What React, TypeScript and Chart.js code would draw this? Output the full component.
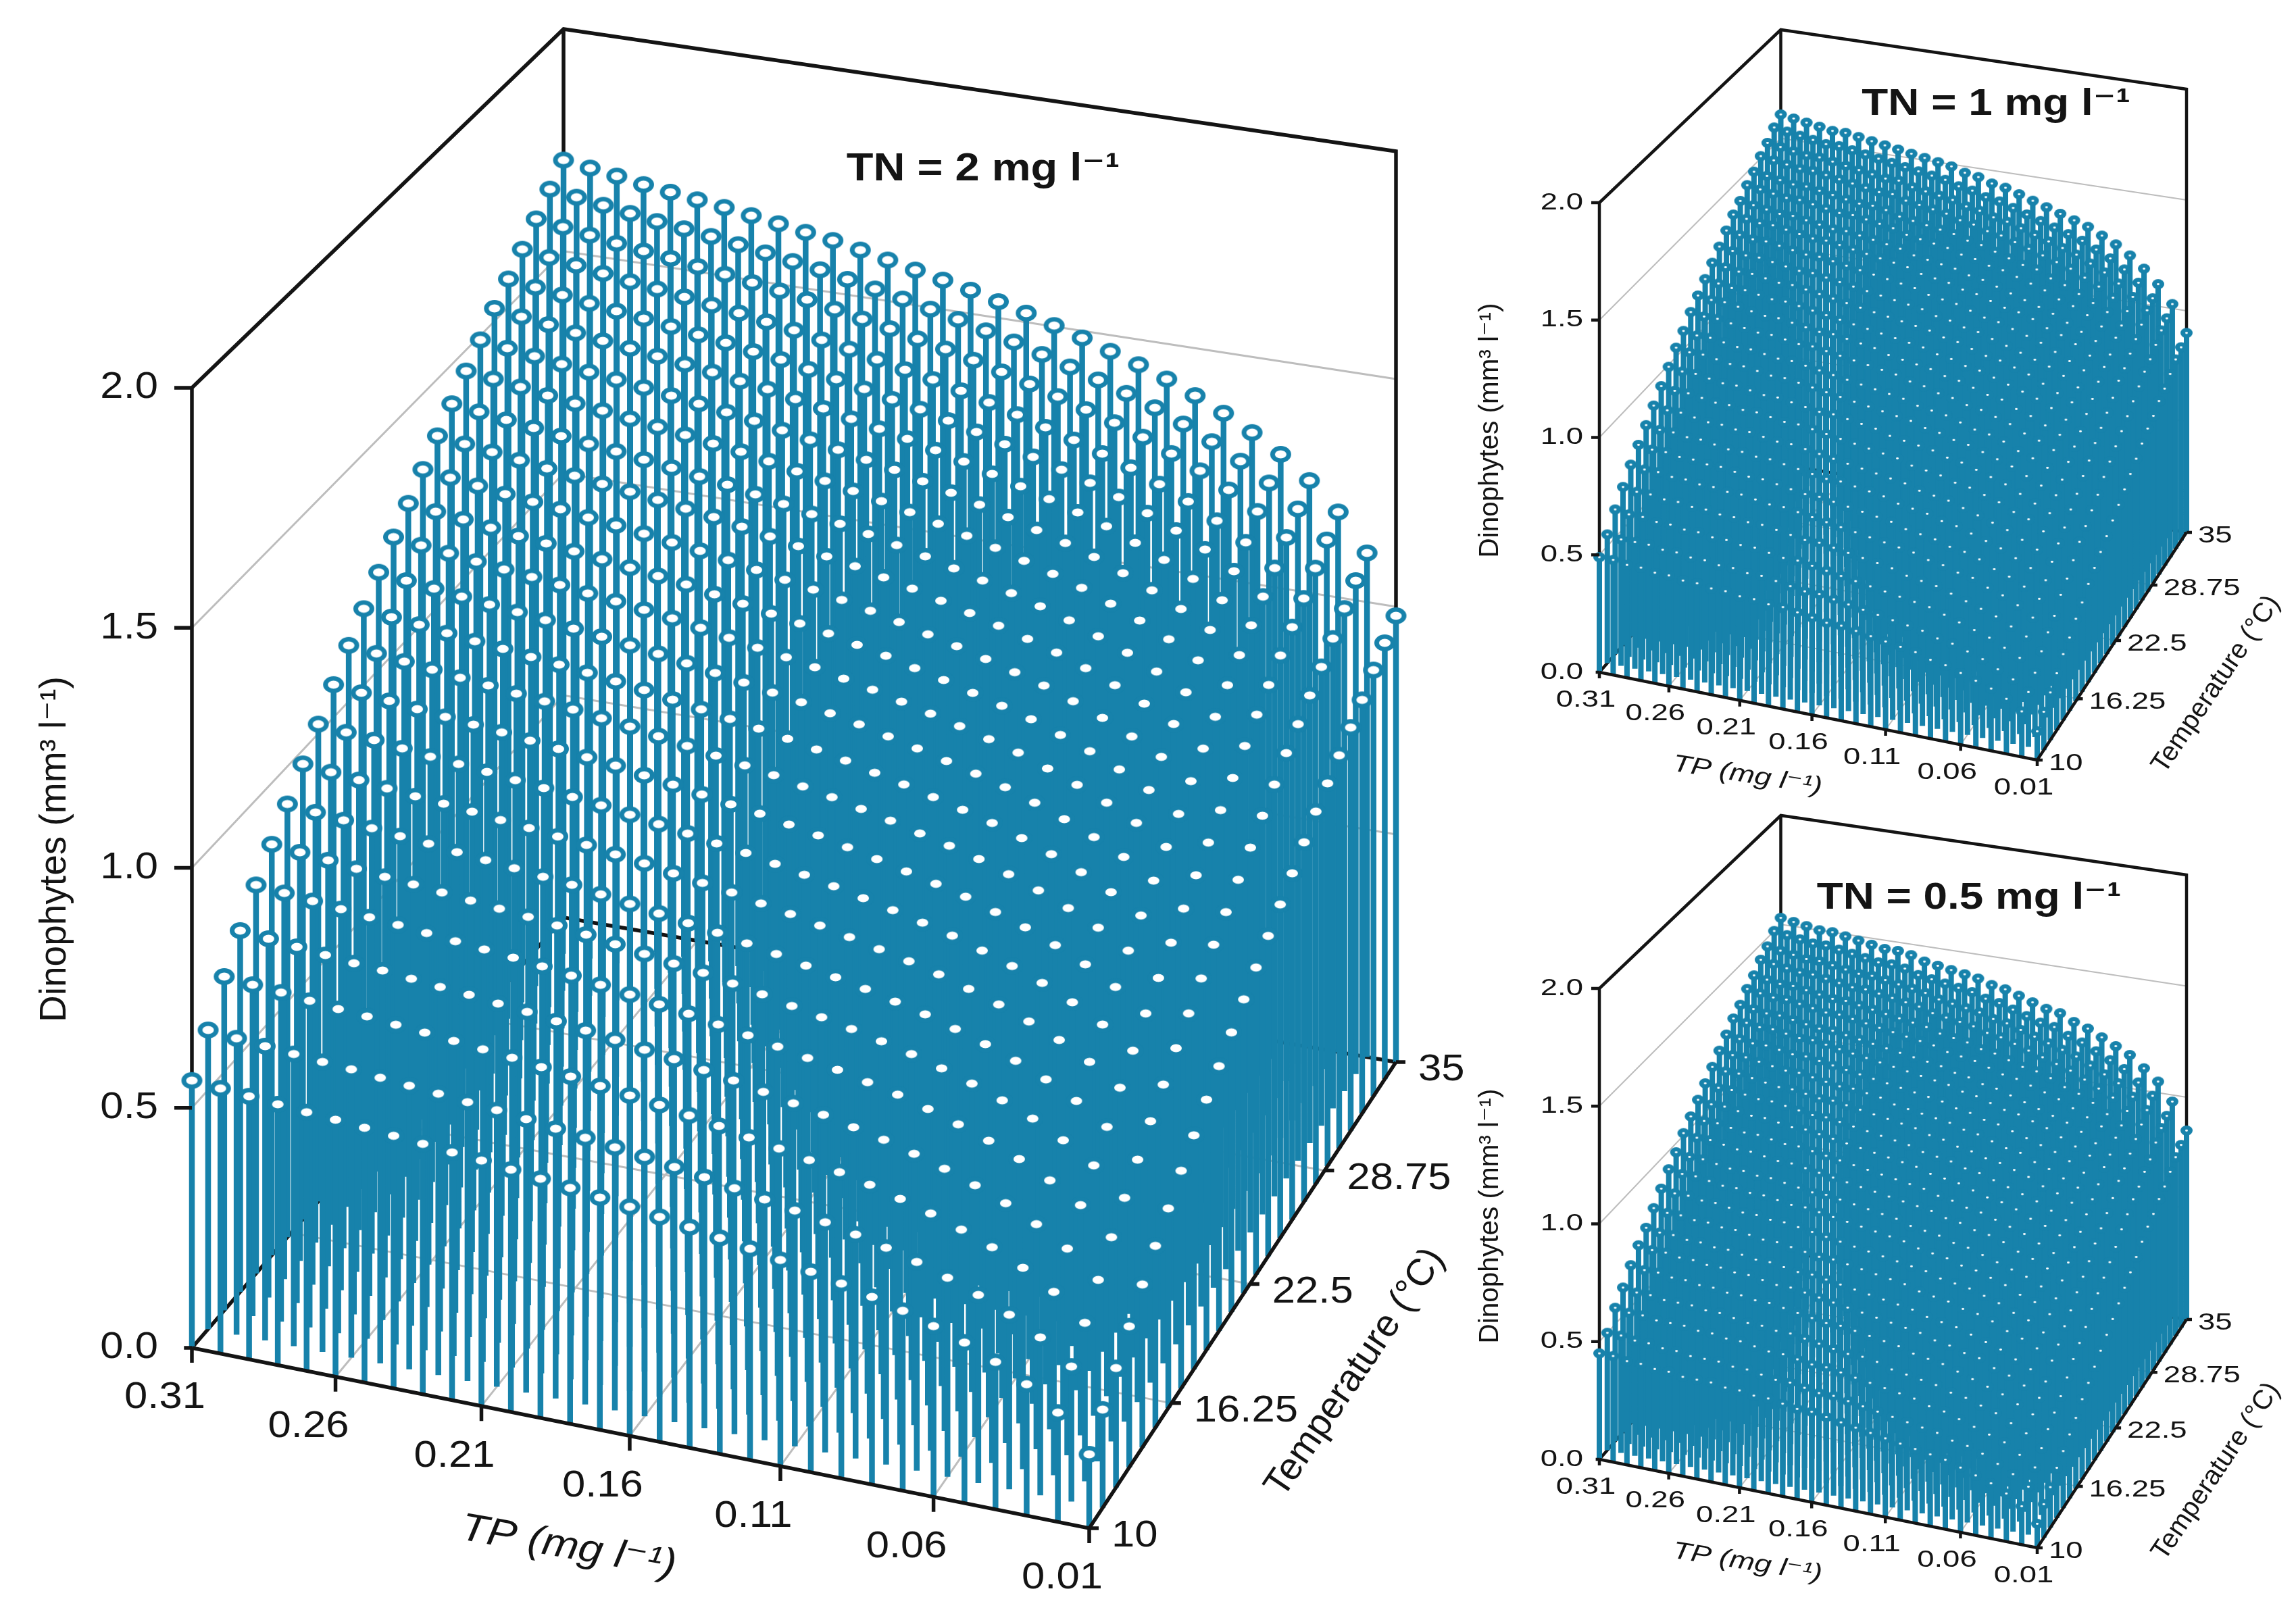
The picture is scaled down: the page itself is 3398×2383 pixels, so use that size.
import React, { useEffect, useRef } from "react";
import { Chart, registerables } from "chart.js";

Chart.register(...registerables);

// Grid of the stems
const tpValues = [0.31,0.30,0.29,0.28,0.27,0.26,0.25,0.24,0.23,0.22,0.21,0.20,0.19,0.18,0.17,0.16,0.15,0.14,0.13,0.12,0.11,0.10,0.09,0.08,0.07,0.06,0.05,0.04,0.03,0.02,0.01];
const temperatureValues = [10,11,12,13,14,15,16,17,18,19,20,21,22,23,24,25,26,27,28,29,30,31,32,33,34,35];

// Tick labels
const tpTicks = ["0.31","0.26","0.21","0.16","0.11","0.06","0.01"];
const temperatureTicks = ["10","16.25","22.5","28.75","35"];
const dinoTicks = ["0.0","0.5","1.0","1.5","2.0"];

// Dinophytes, TN = 2 mg/l, in 0.001 mm3/l. One row per temperature (10 to 35), TP from 0.31 to 0.01.
const dinoTN2 = [
[557,552,547,542,537,533,528,523,518,512,507,500,493,486,478,471,462,453,443,433,422,410,398,383,367,348,327,300,267,222,150],
[625,619,614,609,604,600,594,589,584,578,573,566,558,551,543,535,526,517,506,495,484,472,459,444,427,407,384,356,322,275,200],
[700,694,689,683,677,673,667,662,656,650,644,636,628,620,612,604,594,584,572,561,549,536,522,505,487,466,442,412,375,324,244],
[760,754,748,742,736,732,726,720,715,708,702,694,686,678,669,661,650,640,628,616,604,590,576,559,540,518,493,462,424,372,289],
[820,814,808,802,796,791,785,779,773,767,760,752,744,735,726,718,707,696,684,672,659,645,631,613,593,571,545,513,474,420,335],
[870,864,858,851,845,840,834,828,822,816,809,801,792,783,774,766,755,744,731,719,706,692,677,659,639,616,590,557,517,462,375],
[920,913,907,901,895,890,883,877,871,864,858,849,840,831,822,813,802,791,778,765,752,737,722,703,683,660,633,600,558,502,413],
[970,963,957,950,944,939,933,926,920,913,906,897,889,879,870,861,849,838,825,812,798,784,768,749,728,704,677,643,601,543,452],
[1020,1013,1007,1000,993,988,982,975,969,961,954,945,936,927,917,908,896,884,871,857,843,828,812,792,771,747,718,683,640,581,487],
[1070,1063,1056,1049,1043,1037,1031,1024,1017,1010,1003,993,984,974,964,955,943,931,917,903,888,873,857,836,815,789,760,724,680,619,523],
[1120,1113,1106,1099,1092,1086,1079,1073,1066,1058,1051,1041,1031,1021,1011,1001,988,976,962,948,932,917,900,879,856,830,800,763,717,654,555],
[1165,1157,1151,1143,1136,1130,1123,1117,1110,1102,1094,1084,1074,1064,1054,1043,1031,1018,1003,989,973,957,940,919,896,869,838,800,754,690,588],
[1210,1202,1195,1188,1181,1175,1168,1160,1153,1145,1137,1127,1117,1107,1096,1086,1073,1060,1045,1030,1014,998,980,958,934,907,876,837,789,724,620],
[1253,1245,1238,1230,1223,1217,1210,1202,1195,1187,1179,1169,1158,1147,1137,1126,1112,1099,1084,1069,1053,1036,1018,995,971,944,912,872,823,756,650],
[1293,1285,1278,1270,1262,1256,1249,1242,1234,1226,1218,1207,1197,1186,1175,1164,1150,1137,1121,1106,1089,1072,1054,1031,1007,979,946,906,856,788,680],
[1334,1326,1318,1310,1303,1297,1289,1282,1274,1265,1257,1247,1236,1225,1214,1202,1189,1175,1159,1144,1127,1109,1091,1068,1043,1014,981,940,889,820,710],
[1375,1367,1359,1351,1343,1337,1329,1322,1314,1305,1297,1286,1275,1264,1252,1241,1227,1213,1197,1181,1164,1146,1127,1104,1078,1049,1016,974,922,852,740],
[1413,1405,1397,1389,1381,1374,1367,1359,1351,1342,1334,1323,1312,1300,1289,1277,1263,1249,1233,1217,1200,1182,1162,1138,1113,1083,1049,1007,955,883,770],
[1453,1445,1437,1428,1420,1414,1406,1398,1390,1381,1373,1362,1350,1339,1327,1315,1301,1286,1270,1254,1236,1218,1198,1174,1148,1118,1083,1040,987,915,800],
[1490,1481,1473,1465,1457,1450,1442,1434,1426,1417,1408,1397,1386,1374,1362,1350,1335,1320,1304,1287,1269,1251,1231,1206,1179,1149,1114,1070,1016,942,825],
[1528,1519,1511,1502,1494,1487,1479,1471,1463,1453,1445,1433,1422,1409,1397,1385,1370,1355,1338,1321,1303,1284,1264,1238,1211,1180,1144,1100,1045,969,850],
[1562,1553,1545,1536,1528,1521,1513,1504,1496,1486,1478,1466,1454,1442,1429,1417,1402,1387,1370,1352,1334,1315,1294,1269,1241,1210,1173,1128,1072,996,875],
[1597,1588,1580,1571,1562,1555,1547,1538,1530,1520,1511,1499,1488,1475,1462,1450,1435,1419,1402,1384,1366,1346,1325,1299,1271,1239,1202,1156,1100,1023,900],
[1634,1625,1616,1607,1599,1592,1583,1575,1566,1557,1547,1535,1523,1511,1498,1485,1470,1454,1437,1419,1400,1381,1359,1333,1305,1273,1236,1189,1132,1054,930],
[1670,1661,1652,1643,1634,1627,1619,1610,1601,1591,1582,1570,1558,1545,1532,1519,1503,1488,1470,1452,1433,1413,1391,1365,1336,1303,1265,1218,1160,1081,955],
[1705,1696,1687,1677,1669,1661,1653,1644,1635,1625,1616,1604,1591,1578,1565,1552,1536,1520,1502,1484,1464,1444,1422,1395,1366,1333,1295,1247,1188,1108,980],
];

// Dinophytes, TN = 1 mg/l, in 0.01 mm3/l.
const dinoTN1 = [
[49,49,48,48,47,47,46,46,45,45,44,44,43,43,42,41,40,40,39,38,37,36,35,33,32,30,28,26,23,19,12],
[55,54,54,54,53,53,52,52,51,51,50,50,49,48,47,47,46,45,44,43,42,41,40,38,37,35,33,30,27,23,16],
[62,61,61,60,60,59,59,58,58,57,57,56,55,55,54,53,52,51,50,49,48,47,46,44,42,40,38,35,32,27,20],
[68,67,67,66,66,65,65,64,64,63,63,62,61,60,60,59,58,57,56,55,53,52,51,49,47,45,43,40,37,32,24],
[74,73,73,72,72,71,71,70,70,69,68,68,67,66,65,64,63,62,61,60,59,57,56,54,53,50,48,45,41,36,28],
[79,78,78,77,77,76,76,75,74,74,73,72,71,71,70,69,68,67,66,64,63,62,60,59,57,54,52,49,45,39,31],
[84,83,83,82,82,81,80,80,79,79,78,77,76,75,75,74,73,72,70,69,68,66,65,63,61,59,56,53,49,44,35],
[89,88,88,87,86,86,85,85,84,83,83,82,81,80,79,78,77,76,75,73,72,71,69,67,65,63,60,57,53,47,38],
[94,93,93,92,91,91,90,90,89,88,88,87,86,85,84,83,82,81,79,78,77,75,74,72,70,67,65,61,57,51,42],
[99,98,98,97,96,96,95,94,94,93,92,91,91,90,89,88,86,85,84,83,81,80,78,76,74,71,68,65,60,55,45],
[104,103,103,102,101,101,100,99,99,98,97,96,95,94,93,92,91,90,88,87,85,84,82,80,78,75,72,69,64,58,48],
[108,107,107,106,105,105,104,103,103,102,101,100,99,98,97,96,95,93,92,91,89,87,86,84,81,79,76,72,67,61,51],
[113,112,112,111,110,109,109,108,107,107,106,105,104,103,102,101,99,98,96,95,93,92,90,88,85,83,80,76,71,64,54],
[117,116,116,115,114,113,113,112,111,110,110,109,108,107,105,104,103,102,100,99,97,95,94,91,89,86,83,79,74,68,57],
[121,120,119,119,118,117,117,116,115,114,113,112,111,110,109,108,107,105,104,102,101,99,97,95,93,90,86,82,78,71,60],
[125,124,123,123,122,121,121,120,119,118,117,116,115,114,113,112,111,109,108,106,104,103,101,99,96,93,90,86,81,74,63],
[129,128,127,127,126,125,124,124,123,122,121,120,119,118,117,116,114,113,111,110,108,106,104,102,100,97,93,89,84,77,66],
[133,132,131,131,130,129,128,128,127,126,125,124,123,122,121,119,118,117,115,113,112,110,108,106,103,100,97,93,87,80,69],
[137,136,135,135,134,133,132,132,131,130,129,128,127,126,124,123,122,120,119,117,115,114,112,109,107,104,100,96,91,83,72],
[140,139,138,137,137,136,135,134,134,133,132,131,130,128,127,126,125,123,122,120,118,116,114,112,109,106,103,98,93,86,74],
[144,143,142,141,141,140,139,138,138,137,136,135,133,132,131,130,128,127,125,124,122,120,118,115,113,110,106,102,96,89,77],
[147,146,145,144,144,143,142,141,140,140,139,137,136,135,134,133,131,130,128,126,124,123,120,118,115,112,109,104,99,91,79],
[151,150,149,148,148,147,146,145,144,143,143,141,140,139,138,136,135,133,132,130,128,126,124,122,119,116,112,107,102,94,82],
[154,153,152,151,151,150,149,148,147,146,146,144,143,142,141,139,138,136,135,133,131,129,127,125,122,119,115,110,105,97,85],
[158,157,156,155,154,154,153,152,151,150,149,148,147,146,144,143,141,140,138,136,134,132,130,128,125,122,118,113,107,99,87],
[161,160,159,158,157,157,156,155,154,153,152,151,150,149,147,146,144,143,141,139,137,135,133,131,128,125,121,116,110,102,90],
];

// Dinophytes, TN = 0.5 mg/l, in 0.01 mm3/l.
const dinoTN05 = [
[45,45,44,44,43,43,42,42,42,41,41,40,40,39,38,38,37,36,35,34,33,32,31,30,29,27,25,23,20,16,10],
[50,50,49,49,48,48,47,47,47,46,46,45,44,44,43,42,42,41,40,39,38,37,36,35,33,32,30,27,24,20,14],
[57,56,56,55,55,55,54,54,53,53,52,51,51,50,49,49,48,47,46,45,44,43,41,40,38,36,34,32,28,24,17],
[62,61,61,60,60,60,59,59,58,57,57,56,56,55,54,53,52,52,51,49,48,47,46,44,43,41,39,36,33,28,21],
[68,67,67,66,66,65,65,64,64,63,63,62,61,60,59,59,58,57,56,55,53,52,51,49,47,45,43,40,37,32,24],
[73,72,72,71,71,70,70,69,69,68,67,67,66,65,64,63,62,61,60,59,58,56,55,53,52,49,47,44,40,35,27],
[77,76,76,75,75,74,74,73,72,72,71,70,70,69,68,67,66,65,64,63,61,60,59,57,55,53,50,47,43,38,30],
[82,81,81,80,80,79,79,78,77,77,76,75,74,74,73,72,71,70,69,67,66,65,63,62,60,57,55,52,48,42,34],
[87,86,86,85,85,84,83,83,82,82,81,80,79,78,77,76,75,74,73,72,70,69,68,66,64,61,59,55,51,46,37],
[92,91,91,90,89,89,88,88,87,86,86,85,84,83,82,81,80,79,77,76,75,73,72,70,68,65,63,59,55,49,40],
[96,95,95,94,93,93,92,92,91,90,89,89,88,87,86,85,84,82,81,80,78,77,75,73,71,69,66,62,58,52,43],
[101,100,100,99,98,98,97,96,96,95,94,93,92,91,90,89,88,87,86,84,83,81,80,78,75,73,70,66,62,56,46],
[105,104,104,103,102,102,101,100,100,99,98,97,96,95,94,93,92,91,89,88,86,85,83,81,79,76,73,70,65,59,49],
[109,108,108,107,106,106,105,104,104,103,102,101,100,99,98,97,96,94,93,92,90,88,87,85,82,80,77,73,68,62,52],
[113,112,112,111,110,110,109,108,107,107,106,105,104,103,102,101,99,98,97,95,94,92,90,88,86,83,80,76,72,65,55],
[117,116,116,115,114,113,113,112,111,111,110,109,108,107,106,105,103,102,100,99,97,96,94,92,89,87,84,80,75,68,58],
[121,120,120,119,118,117,117,116,115,114,114,113,112,110,109,108,107,106,104,103,101,99,98,95,93,90,87,83,78,72,61],
[125,124,123,123,122,121,121,120,119,118,117,116,115,114,113,112,111,109,108,106,105,103,101,99,97,94,90,86,81,75,64],
[129,128,127,127,126,125,125,124,123,122,121,120,119,118,117,116,115,113,112,110,108,107,105,103,100,97,94,90,85,78,67],
[132,131,130,130,129,128,127,127,126,125,124,123,122,121,120,119,117,116,114,113,111,109,107,105,103,100,96,92,87,80,69],
[136,135,134,134,133,132,131,131,130,129,128,127,126,125,124,122,121,120,118,116,115,113,111,109,106,103,100,96,90,83,72],
[139,138,137,137,136,135,134,134,133,132,131,130,129,128,126,125,124,122,121,119,117,116,114,111,109,106,102,98,93,85,74],
[143,142,141,140,140,139,138,137,137,136,135,134,133,131,130,129,128,126,125,123,121,119,117,115,112,109,106,101,96,89,77],
[146,145,144,143,143,142,141,140,140,139,138,137,136,134,133,132,131,129,128,126,124,122,120,118,115,112,109,104,99,92,80],
[150,149,148,147,147,146,145,144,143,143,142,140,139,138,137,136,134,133,131,129,127,126,123,121,118,115,112,107,102,94,82],
[153,152,151,150,150,149,148,147,146,146,145,143,142,141,140,139,137,136,134,132,130,129,126,124,121,118,115,110,105,97,85],
];

const TEAL = "#1782ab";
const GREY = "#bdbdbd";
const INK = "#141414";
const FONT = '"Liberation Sans", "DejaVu Sans", Arial, sans-serif';

type Pt = { x: number; y: number | null; top?: boolean };
type Title = { text: string; x: number; y: number; rot: number; font: string; sx: number };

type PanelCfg = {
  rect: { left: number; top: number; width: number; height: number };
  rows: number[][];
  unit: number;
  O: number[]; A: number[]; B: number[]; C: number[];
  hO: number; hB: number; hC: number;
  stem: number; frame: number; grid: number;
  ring: number[];
  tickZ: number; tickTP: number; tickT: number;
  tickFont: string; tickSx: number;
  zLabelGap: number; tpLabel: number[]; tLabel: number[];
  titles: Title[];
};

const panels: PanelCfg[] = [
  {
    rect: { left: 0, top: 0, width: 2185, height: 2383 },
    rows: dinoTN2, unit: 0.001,
    O: [284, 1995], A: [1612, 2262], B: [2066, 1572], C: [834, 1358],
    hO: 710.5, hB: 674, hC: 657.5,
    stem: 8.5, frame: 5.5, grid: 3,
    ring: [15.5, 12.5, 8.5, 6],
    tickZ: 26, tickTP: 22, tickT: 14,
    tickFont: `56px ${FONT}`, tickSx: 1.1,
    zLabelGap: 50, tpLabel: [-40, 74], tLabel: [33, 12],
    titles: [
      { text: "Dinophytes (mm³ l⁻¹)", x: 82, y: 1257, rot: -90, font: `55px ${FONT}`, sx: 1 },
      { text: "TP (mg l⁻¹)", x: 841, y: 2290, rot: 10, font: `italic 58px ${FONT}`, sx: 1.12 },
      { text: "Temperature (°C)", x: 2006, y: 2032, rot: -56, font: `56px ${FONT}`, sx: 1 },
      { text: "TN = 2 mg l⁻¹", x: 1455, y: 251, rot: 0, font: `bold 58px ${FONT}`, sx: 1.12 },
    ],
  },
  {
    rect: { left: 2185, top: 0, width: 1213, height: 1190 },
    rows: dinoTN1, unit: 0.01,
    O: [2367, 995], A: [3015, 1125], B: [3236, 788], C: [2635.5, 687],
    hO: 347.5, hB: 328, hC: 321.5,
    stem: 8, frame: 4.5, grid: 2,
    ring: [9, 7.5, 2, 1.4],
    tickZ: 12, tickTP: 9, tickT: 8,
    tickFont: `35px ${FONT}`, tickSx: 1.3,
    zLabelGap: 24, tpLabel: [-20, 41], tLabel: [17, 5],
    titles: [
      { text: "Dinophytes (mm³ l⁻¹)", x: 2206, y: 637, rot: -90, font: `40.5px ${FONT}`, sx: 1 },
      { text: "TP (mg l⁻¹)", x: 2586, y: 1148, rot: 9, font: `italic 36px ${FONT}`, sx: 1.25 },
      { text: "Temperature (°C)", x: 3280, y: 1013, rot: -56, font: `40px ${FONT}`, sx: 1 },
      { text: "TN = 1 mg l⁻¹", x: 2954, y: 155, rot: 0, font: `bold 56px ${FONT}`, sx: 1.14 },
    ],
  },
  {
    rect: { left: 2185, top: 1190, width: 1213, height: 1193 },
    rows: dinoTN05, unit: 0.01,
    O: [2367, 2160], A: [3015, 2291], B: [3236, 1953], C: [2635.5, 1852],
    hO: 348.5, hB: 329, hC: 322.5,
    stem: 8, frame: 4.5, grid: 2,
    ring: [9, 7.5, 2, 1.4],
    tickZ: 12, tickTP: 9, tickT: 8,
    tickFont: `35px ${FONT}`, tickSx: 1.3,
    zLabelGap: 24, tpLabel: [-20, 41], tLabel: [17, 5],
    titles: [
      { text: "Dinophytes (mm³ l⁻¹)", x: 2206, y: 1800, rot: -90, font: `40.5px ${FONT}`, sx: 1 },
      { text: "TP (mg l⁻¹)", x: 2586, y: 2313, rot: 9, font: `italic 36px ${FONT}`, sx: 1.25 },
      { text: "Temperature (°C)", x: 3280, y: 2178, rot: -56, font: `40px ${FONT}`, sx: 1 },
      { text: "TN = 0.5 mg l⁻¹", x: 2914, y: 1330, rot: 0, font: `bold 56px ${FONT}`, sx: 1.14 },
    ],
  },
];

function makeProjection(p: PanelCfg) {
  const [x0, y0] = p.O, [x1, y1] = p.A, [x2, y2] = p.B, [x3, y3] = p.C;
  const sx = x0 - x1 + x2 - x3, sy = y0 - y1 + y2 - y3;
  const dx1 = x1 - x2, dx2 = x3 - x2, dy1 = y1 - y2, dy2 = y3 - y2;
  const den = dx1 * dy2 - dx2 * dy1;
  const g = (sx * dy2 - dx2 * sy) / den, h = (dx1 * sy - sx * dy1) / den;
  const a = x1 - x0 + g * x1, b = x3 - x0 + h * x3;
  const d = y1 - y0 + g * y1, e = y3 - y0 + h * y3;
  const ip = 1 / p.hO, ir = 1 / p.hC - ip, iq = 1 / p.hB - ip - ir;
  return (tp: number, temp: number, val: number) => {
    const u = (0.31 - tp) / 0.3, v = (temp - 10) / 25;
    const w = g * u + h * v + 1;
    const height = 1 / (ip + iq * u + ir * v);
    return { x: (a * u + b * v + x0) / w, y: (d * u + e * v + y0) / w - val * height };
  };
}

function makeMarker(ring: number[]) {
  const [rx, ry, ix, iy] = ring;
  const c = document.createElement("canvas");
  c.width = Math.ceil(rx * 2 + 2);
  c.height = Math.ceil(ry * 2 + 2);
  const ctx = c.getContext("2d")!;
  ctx.translate(c.width / 2, c.height / 2);
  ctx.fillStyle = TEAL;
  ctx.beginPath();
  ctx.ellipse(0, 0, rx, ry, 0, 0, Math.PI * 2);
  ctx.fill();
  ctx.fillStyle = "#ffffff";
  ctx.beginPath();
  ctx.ellipse(0, 0, ix, iy, 0, 0, Math.PI * 2);
  ctx.fill();
  return c;
}

function segments(list: { x: number; y: number }[][]): Pt[] {
  const out: Pt[] = [];
  list.forEach((seg) => {
    seg.forEach((q) => out.push({ x: q.x, y: q.y }));
    out.push({ x: seg[0].x, y: null });
  });
  return out;
}

function lineSet(data: Pt[], color: string, width: number, order: number) {
  return { type: "line", data, borderColor: color, borderWidth: width, pointRadius: 0, spanGaps: false, tension: 0, order, clip: false };
}

function buildDatasets(p: PanelCfg) {
  const at = makeProjection(p);
  const tpNear = 0.31, tpFar = 0.01, tNear = 10, tFar = 35;
  const zMax = Number(dinoTicks[dinoTicks.length - 1]);
  const tpNums = tpTicks.map(Number);
  const tNums = temperatureTicks.map(Number);
  const zNums = dinoTicks.map(Number);
  const marker = makeMarker(p.ring);

  // Rows: the nearest row is first in `order`, so it paints last, over the rows behind it.
  const rowSets: any[] = temperatureValues.map((temp, r) => {
    const pts: Pt[] = [];
    tpValues.forEach((tp, i) => {
      const base = at(tp, temp, 0);
      const top = at(tp, temp, p.rows[r][i] * p.unit);
      pts.push({ x: base.x, y: base.y }, { x: top.x, y: top.y, top: true }, { x: base.x, y: null });
    });
    return {
      type: "line", data: pts, borderColor: TEAL, borderWidth: p.stem, tension: 0, spanGaps: false,
      pointStyle: marker,
      pointRadius: (c: any) => (c.raw && c.raw.top ? 1 : 0),
      pointHoverRadius: 0, order: r + 1, clip: false, borderCapStyle: "butt",
    };
  });

  const floorGrid = [
    ...tpNums.slice(1, -1).map((t) => [at(t, tNear, 0), at(t, tFar, 0)]),
    ...tNums.slice(1, -1).map((t) => [at(tpNear, t, 0), at(tpFar, t, 0)]),
  ];
  const wallGrid = zNums.slice(1, -1).flatMap((z) => [
    [at(tpNear, tNear, z), at(tpNear, tFar, z)],
    [at(tpNear, tFar, z), at(tpFar, tFar, z)],
  ]);
  const backFrame = [
    [at(tpNear, tFar, 0), at(tpFar, tFar, 0)],
    [at(tpNear, tNear, 0), at(tpNear, tFar, 0)],
    [at(tpNear, tNear, 0), at(tpNear, tNear, zMax), at(tpNear, tFar, zMax), at(tpFar, tFar, zMax), at(tpFar, tFar, 0)],
    [at(tpNear, tFar, 0), at(tpNear, tFar, zMax)],
  ];
  const off = (q: { x: number; y: number }, dx: number, dy: number) => ({ x: q.x + dx, y: q.y + dy });
  const frontFrame = [
    [at(tpNear, tNear, 0), at(tpFar, tNear, 0), at(tpFar, tFar, 0)],
    ...zNums.map((z, i) => {
      const q = at(tpNear, tNear, z);
      return [off(q, i === 0 ? -p.tickZ * 0.45 : -p.tickZ, 0), q];
    }),
    ...tpNums.map((t) => {
      const q = at(t, tNear, 0);
      return [q, off(q, 0, p.tickTP)];
    }),
    ...tNums.map((t) => {
      const q = at(tpFar, t, 0);
      return [q, off(q, p.tickT, 0)];
    }),
  ];

  return [
    lineSet(segments(frontFrame), INK, p.frame, -1),
    ...rowSets,
    lineSet(segments(backFrame), INK, p.frame, 100),
    lineSet(segments(wallGrid), GREY, p.grid, 101),
    lineSet(segments(floorGrid), GREY, p.grid, 102),
  ];
}

function labelsPlugin(p: PanelCfg) {
  const at = makeProjection(p);
  return {
    id: "panelText",
    afterDraw(chart: any) {
      const ctx = chart.ctx as CanvasRenderingContext2D;
      const sxScale = chart.scales.x, syScale = chart.scales.y;
      const put = (text: string, x: number, y: number, align: CanvasTextAlign, font: string, sx: number, rot = 0) => {
        ctx.save();
        ctx.translate(sxScale.getPixelForValue(x), syScale.getPixelForValue(y));
        ctx.rotate((rot * Math.PI) / 180);
        ctx.scale(sx, 1);
        ctx.font = font;
        ctx.fillStyle = INK;
        ctx.textAlign = align;
        ctx.textBaseline = "middle";
        ctx.fillText(text, 0, 0);
        ctx.restore();
      };
      dinoTicks.forEach((t) => {
        const q = at(0.31, 10, Number(t));
        put(t, q.x - p.zLabelGap, q.y, "right", p.tickFont, p.tickSx);
      });
      tpTicks.forEach((t) => {
        const q = at(Number(t), 10, 0);
        put(t, q.x + p.tpLabel[0], q.y + p.tpLabel[1], "center", p.tickFont, p.tickSx);
      });
      temperatureTicks.forEach((t) => {
        const q = at(0.01, Number(t), 0);
        put(t, q.x + p.tLabel[0], q.y + p.tLabel[1], "left", p.tickFont, p.tickSx);
      });
      p.titles.forEach((t) => put(t.text, t.x, t.y, "center", t.font, t.sx, t.rot));
    },
  };
}

function Panel({ cfg }: { cfg: PanelCfg }) {
  const ref = useRef<HTMLCanvasElement | null>(null);
  useEffect(() => {
    const { left, top, width, height } = cfg.rect;
    const chart = new Chart(ref.current as HTMLCanvasElement, {
      type: "line",
      data: { datasets: buildDatasets(cfg) as any },
      options: {
        responsive: false,
        animation: false,
        devicePixelRatio: 1,
        layout: { padding: 0 },
        events: [],
        plugins: { legend: { display: false }, tooltip: { enabled: false } },
        scales: {
          x: { type: "linear", display: false, min: left, max: left + width },
          y: { type: "linear", display: false, min: top, max: top + height, reverse: true },
        },
      },
      plugins: [labelsPlugin(cfg) as any],
    });
    return () => chart.destroy();
  }, [cfg]);
  const r = cfg.rect;
  return (
    <canvas
      ref={ref}
      width={r.width}
      height={r.height}
      style={{ position: "absolute", left: r.left, top: r.top, width: r.width, height: r.height, display: "block" }}
    />
  );
}

export default function App() {
  return (
    <div style={{ position: "absolute", left: 0, top: 0, width: 3398, height: 2383, background: "#fff", overflow: "hidden" }}>
      {panels.map((cfg, i) => (
        <Panel key={i} cfg={cfg} />
      ))}
    </div>
  );
}
